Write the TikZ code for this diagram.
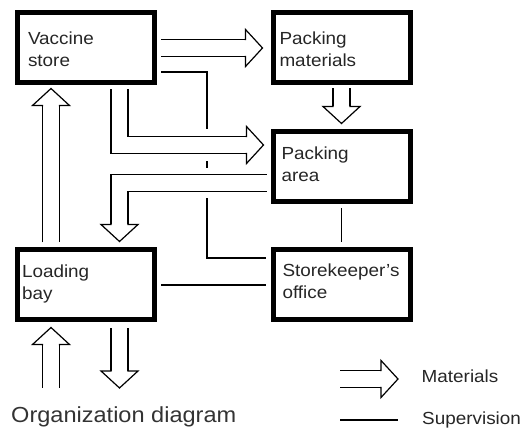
\documentclass[tikz,border=0pt]{standalone}
\usepackage{fontspec}
\setmainfont[FakeStretch=1.08]{Liberation Sans}
\begin{document}
\begin{tikzpicture}[x=1pt,y=-1pt,
  box/.style={draw=black, line width=5pt, minimum width=137pt, minimum height=70pt, inner ysep=0pt, align=left, text=black!85, text height=13pt, font=\fontsize{17.5pt}{22pt}\selectfont},
  sup/.style={draw=black, line width=1.2pt},
  matl/.style={draw=black, line width=1.2pt, double=white, double distance=15.8pt},
  cutout/.style={draw=white, line width=#1},
  lbl/.style={anchor=base west, inner sep=0pt, text=black!85, font=\fontsize{17.5pt}{22pt}\selectfont},
  hhead/.pic={
    \fill[white] (-17,-18.5) -- (0,0) -- (-17,18.5) -- cycle;
    \draw[line width=1.2pt, line join=miter] (-18,-8.5) -- (-17,-8.5) -- (-17,-18.5) -- (0,0) -- (-17,18.5) -- (-17,8.5) -- (-18,8.5);
  }
]
\useasboundingbox (0,0) rectangle (523,430);

% boxes
\node[box, inner xsep=10.5pt, text width=116pt, text depth=19pt] (vs) at (86,48) {Vaccine\\store};
\node[box, inner xsep=6.5pt, text width=124pt, text depth=19pt] (pm) at (341.5,48) {Packing\\materials};
\node[box, inner xsep=8.5pt, text width=120pt, text depth=27pt] (pa) at (341.5,167) {Packing\\area};
\node[box, inner xsep=9.5pt, text width=118pt, text depth=29pt] (so) at (341.5,285) {Storekeeper's\\office};
\node[box, inner xsep=4.5pt, text width=128pt, text depth=27pt] (lb) at (86,285) {Loading\\bay};

% title and legend texts
\node[anchor=base west, inner sep=0pt, text=black!80, font=\fontsize{21.8pt}{26pt}\selectfont] (title) at (11,423) {Organization diagram};
\node[lbl] (lm) at (421.5,383) {Materials};
\node[lbl] (ls) at (422,425) {Supervision};

% supervision lines
\coordinate (sv) at (207,258);
\draw[sup] ([xshift=4pt,yshift=-24pt]vs.east) -| (sv) -- ([xshift=-5pt,yshift=27pt]so.west);
\draw[sup] ([xshift=4pt]lb.east) -- ([xshift=-5pt]so.west);
\draw[sup] ([yshift=-4pt]pa.south) -- ([yshift=5pt]so.north);

% material flows
% vaccine store -> packing materials
\coordinate (t1) at ([xshift=-8pt]pm.west);
\draw[matl] ([xshift=4pt]vs.east) -- ([xshift=-17pt]t1);
\pic at (t1) {hhead};

% vaccine store -> packing area
\coordinate (a2s) at ([xshift=33.5pt,yshift=-4pt]vs.south);
\coordinate (t2) at ([xshift=-7pt,yshift=22pt]pa.west);
\coordinate (a2e) at ([xshift=-17pt]t2);
\draw[cutout=32pt] (a2s) |- (a2e);
\draw[matl] (a2s) |- (a2e);
\pic at (t2) {hhead};

% packing materials -> packing area
\coordinate (t3) at ([yshift=6pt]pa.north);
\draw[matl] ([yshift=-3pt]pm.south) -- ([yshift=17pt]t3);
\pic[rotate=-90] at (t3) {hhead};

% packing area -> loading bay
\coordinate (a4s) at ([xshift=-4pt,yshift=-16pt]pa.west);
\coordinate (t4) at ([xshift=33.5pt,yshift=6pt]lb.north);
\coordinate (a4e) at ([yshift=17pt]t4);
\draw[cutout=30pt] (a4s) -| (a4e);
\draw[matl] (a4s) -| (a4e);
\pic[rotate=-90] at (t4) {hhead};

% loading bay -> vaccine store
\coordinate (t5) at ([xshift=-35pt,yshift=-3pt]vs.south);
\draw[matl] ([xshift=-35pt,yshift=5pt]lb.north) -- ([yshift=-17pt]t5);
\pic[rotate=90] at (t5) {hhead};

% incoming to loading bay
\coordinate (in6) at (51,388);
\coordinate (t6) at ([xshift=-35pt,yshift=-5pt]lb.south);
\draw[matl] (in6) -- ([yshift=-17pt]t6);
\pic[rotate=90] at (t6) {hhead};

% outgoing from loading bay
\coordinate (out7) at (119.5,388);
\draw[matl] ([xshift=33.5pt,yshift=-6pt]lb.south) -- ([yshift=17pt]out7);
\pic[rotate=-90] at (out7) {hhead};

% legend
\coordinate (lms) at (340,379);
\coordinate (lmt) at (398,379);
\draw[matl] (lms) -- ([xshift=-17pt]lmt);
\pic at (lmt) {hhead};
\coordinate (lss) at (340,420);
\coordinate (lse) at (398,420);
\draw[sup] (lss) -- (lse);
\end{tikzpicture}
\end{document}
